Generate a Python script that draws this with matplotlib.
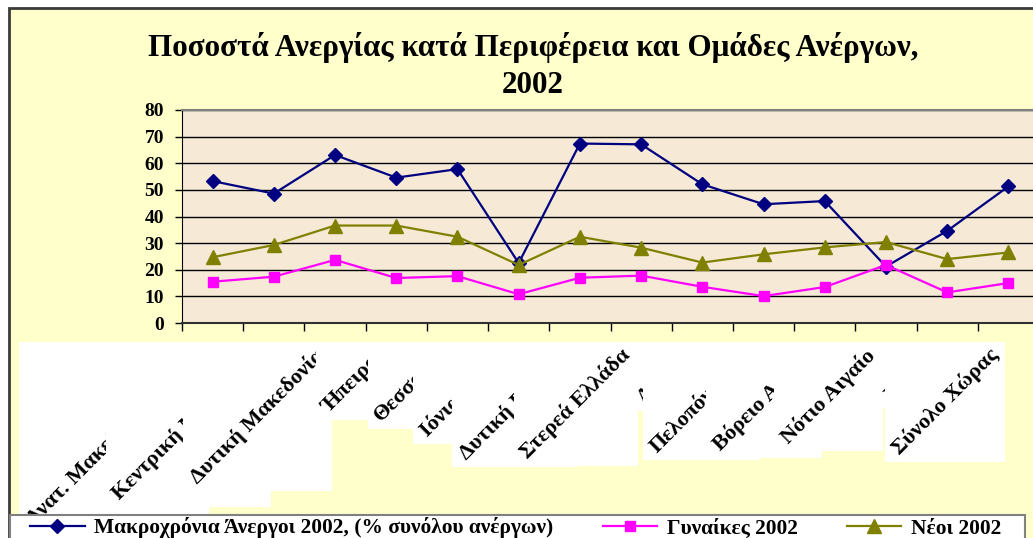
import matplotlib
matplotlib.use('Agg')
import matplotlib.pyplot as plt
from matplotlib.patches import Rectangle
from matplotlib.transforms import IdentityTransform, blended_transform_factory

plt.rcParams['font.family'] = ['Liberation Serif', 'DejaVu Serif']
plt.rcParams['font.weight'] = 'bold'

regions = ["Ανατ. Μακεδονία-Θράκη", "Κεντρική Μακεδονία", "Δυτική Μακεδονία", "Ήπειρος",
           "Θεσσαλία", "Ιόνια Νησιά", "Δυτική Ελλάδα", "Στερεά Ελλάδα", "Αττική",
           "Πελοπόννησος", "Βόρειο Αιγαίο", "Νότιο Αιγαίο", "Κρήτη", "Σύνολο Χώρας"]
long_term = [53.3, 48.6, 63.1, 54.6, 57.8, 22.5, 67.4, 67.1, 52.1, 44.6, 45.8, 21.2, 34.6, 51.3]
women = [15.5, 17.4, 23.7, 16.9, 17.6, 10.8, 17.0, 17.8, 13.6, 10.1, 13.5, 21.8, 11.5, 15.0]
youth = [24.7, 29.3, 36.6, 36.6, 32.4, 21.8, 32.4, 28.3, 22.7, 25.8, 28.4, 30.4, 24.0, 26.5]
series_names = ["Μακροχρόνια Άνεργοι 2002, (% συνόλου ανέργων)", "Γυναίκες 2002", "Νέοι 2002"]
yticks = [0, 10, 20, 30, 40, 50, 60, 70, 80]
title = "Ποσοστά Ανεργίας κατά Περιφέρεια και Ομάδες Ανέργων,\n2002"

W, H = 1033, 538
fig = plt.figure(figsize=(W / 100, H / 100), dpi=100)
fig.patch.set_facecolor('white')


def fx(x):
    return x / W


def fy(y):
    return 1 - y / H


# chart area
fig.add_artist(Rectangle((fx(9), fy(545)), fx(1050) - fx(9), fy(8) - fy(545),
                         transform=fig.transFigure, facecolor='#FFFFCC',
                         edgecolor='#3a3a3a', lw=2, zorder=-10))

ax = fig.add_axes([fx(182), fy(323), (1039 - 182) / W, (323 - 110) / H])
ax.set_facecolor('#F6EAD6')
xs = list(range(len(regions)))
ax.plot(xs, long_term, color='#000080', marker='D', ms=7, lw=1.6, label=series_names[0], zorder=3)
ax.plot(xs, women, color='#FF00FF', marker='s', ms=7.5, lw=1.6, label=series_names[1], zorder=3)
ax.plot(xs, youth, color='#808000', marker='^', ms=10, lw=1.6, label=series_names[2], zorder=3)

ax.set_xlim(-0.5, len(regions) - 0.5)
ax.set_ylim(0, 80)
ax.set_yticks(yticks)
ax.set_yticklabels([str(v) for v in yticks])
ax.set_xticks([i - 0.5 for i in range(len(regions) + 1)])
ax.set_xticklabels([])
ax.yaxis.grid(True, color='black', lw=1)
ax.set_axisbelow(True)
ax.spines['top'].set_color('#808080')
ax.spines['top'].set_linewidth(1.5)
ax.spines['right'].set_visible(False)
ax.spines['left'].set_color('black')
ax.spines['bottom'].set_color('#303030')
ax.spines['bottom'].set_linewidth(1.5)
ax.tick_params(axis='y', direction='out', length=5, width=1, pad=8, labelsize=14)
ax.tick_params(axis='x', direction='out', length=6, width=1)

# title
fig.text(fx(533), fy(66), title, ha='center', va='center', fontsize=22.4,
         linespacing=1.35)

# category labels with opaque white boxes drawn in order
lab_tr = blended_transform_factory(ax.transData, fig.transFigure)
texts = []
for i, name in enumerate(regions):
    t = fig.text(i - 0.1, fy(345), name, transform=lab_tr, rotation=45, ha='right', va='top',
                 fontsize=16, zorder=20 + 2 * i + 1)
    texts.append(t)
fig.canvas.draw()
renderer = fig.canvas.get_renderer()
for i, t in enumerate(texts):
    bb = t.get_window_extent(renderer)
    fig.add_artist(Rectangle((bb.x0 - 3, bb.y0 - 3), bb.width + 6, bb.height + 6,
                             transform=IdentityTransform(), facecolor='white',
                             edgecolor='none', zorder=20 + 2 * i))

# legend box
fig.add_artist(Rectangle((fx(10), fy(545)), fx(1025) - fx(10), fy(515) - fy(545),
                         transform=fig.transFigure, facecolor='white',
                         edgecolor='#808080', lw=1.5, zorder=50))
handles, labels = ax.get_legend_handles_labels()
leg = fig.legend(handles, labels, loc='center left', bbox_to_anchor=(fx(30), fy(528)),
                 ncol=3, frameon=False, fontsize=15.4, handlelength=2.55, handletextpad=0.45,
                 columnspacing=2.3, borderpad=0, borderaxespad=0)
leg.set_zorder(60)

fig.savefig('out.png', dpi=100)
